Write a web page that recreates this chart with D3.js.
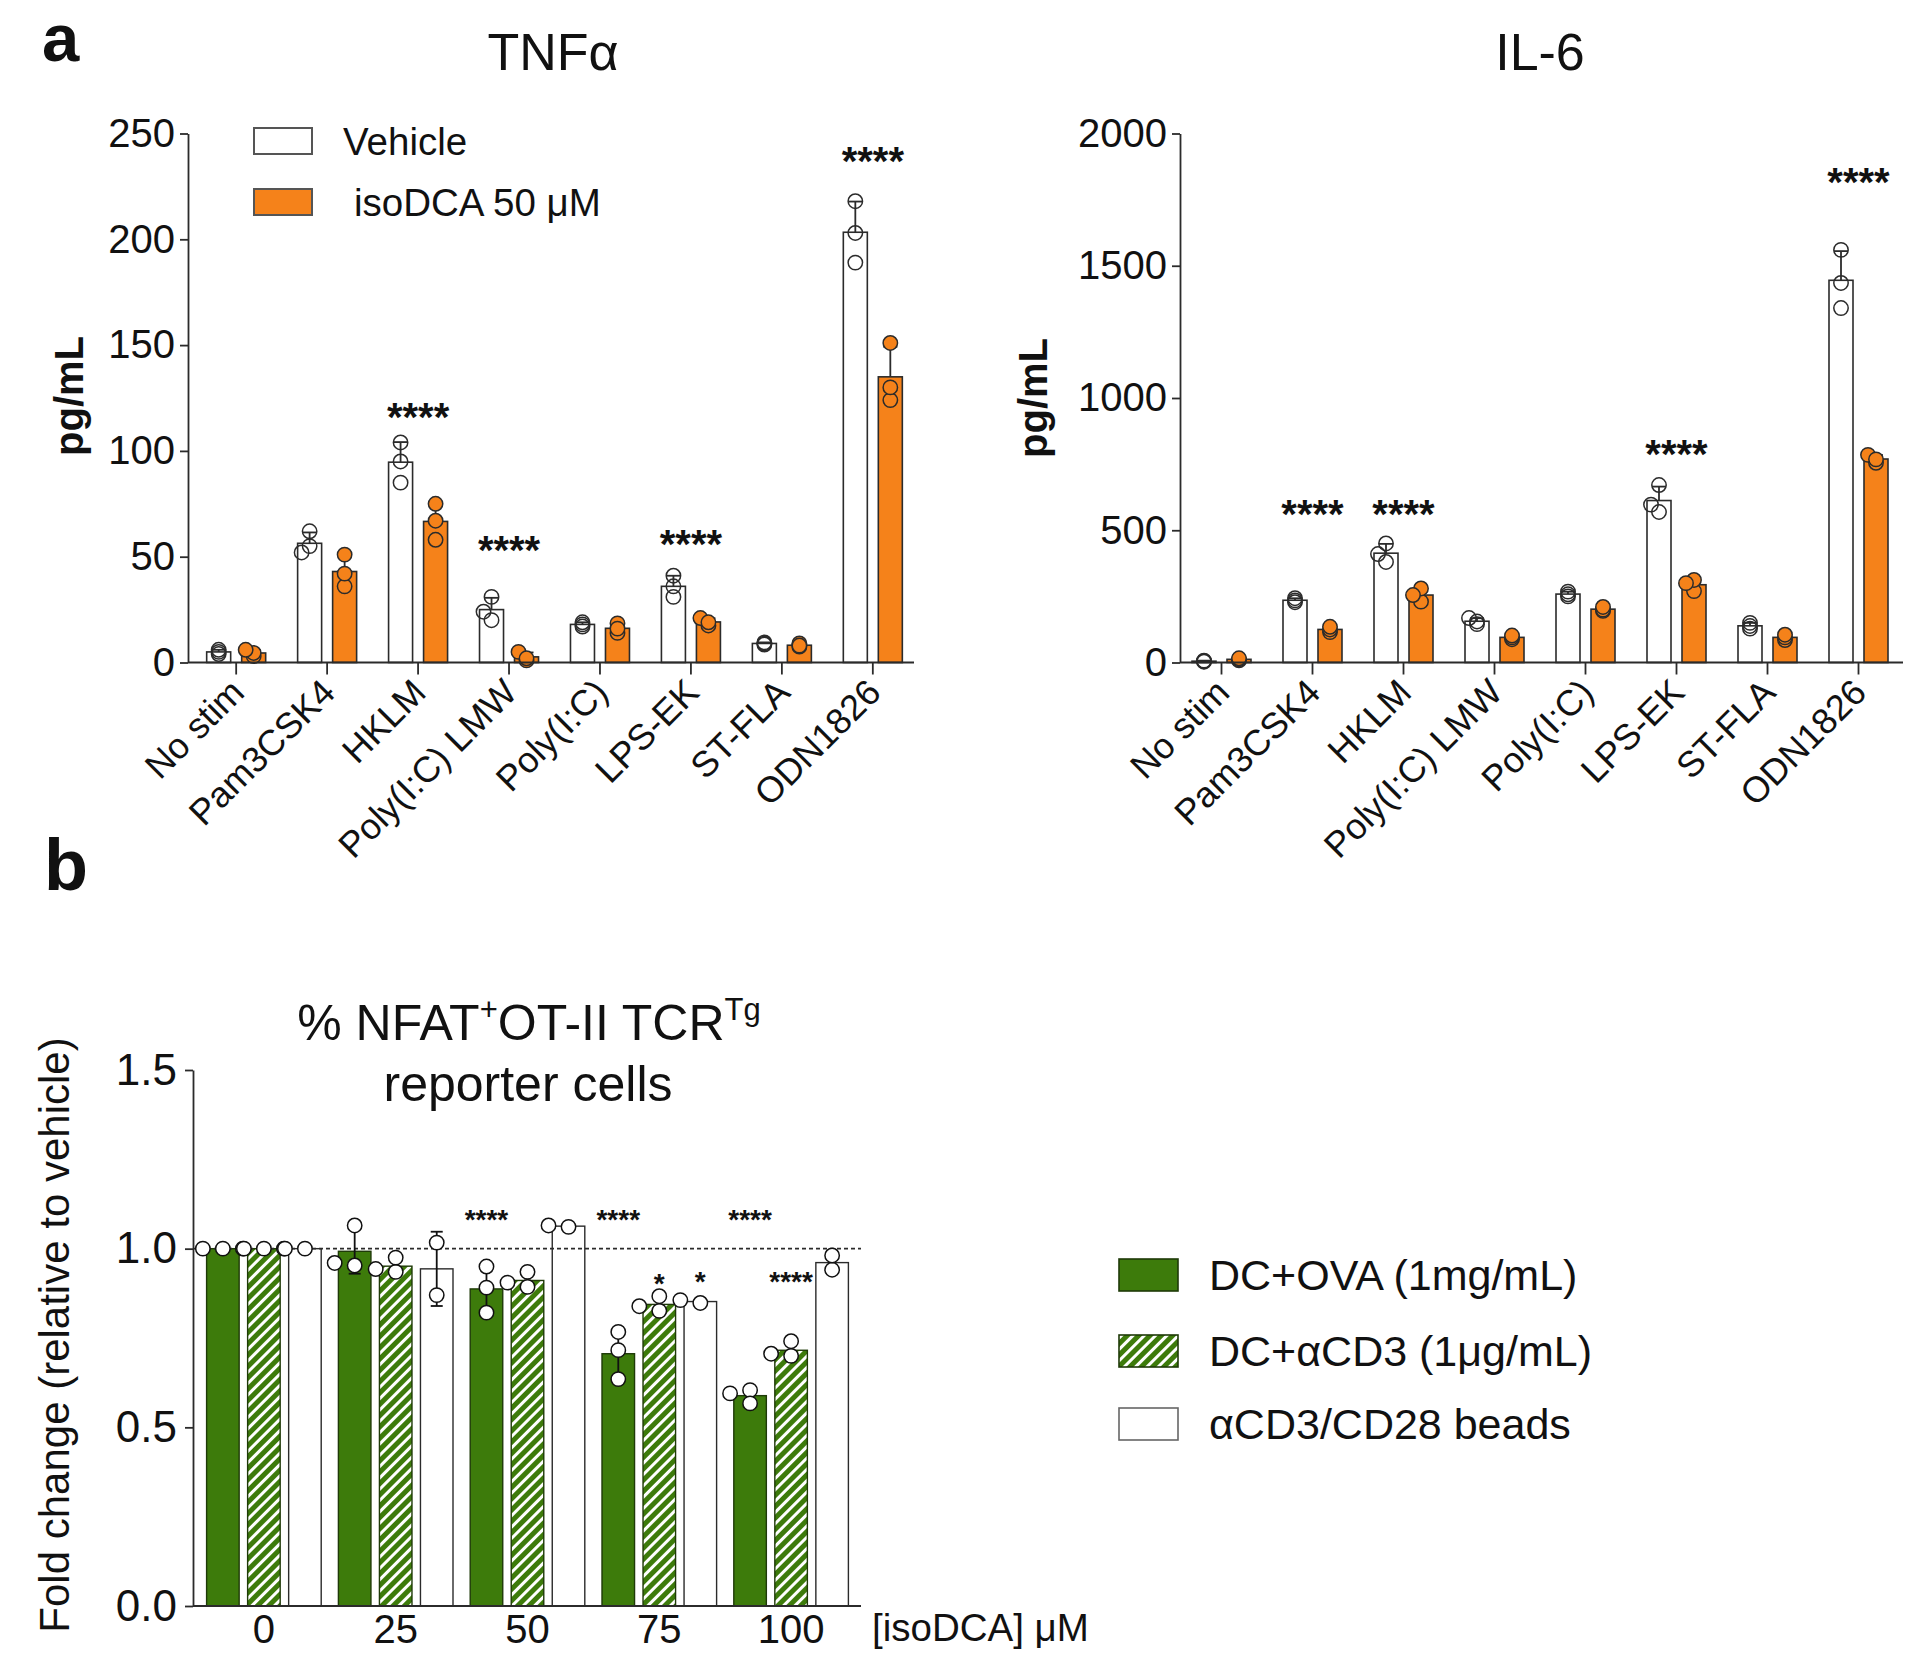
<!DOCTYPE html>
<html><head><meta charset="utf-8">
<script src="https://cdn.jsdelivr.net/npm/d3@7"></script>
<style>
body{margin:0;background:#fff}
svg{display:block}
text{font-family:"Liberation Sans",Arial,Helvetica,sans-serif;fill:#111}
</style>
</head><body>
<svg id="c" width="1920" height="1667"></svg>
<script>
// ---------------- DATA ----------------
const stimuli = ["No stim","Pam3CSK4","HKLM","Poly(I:C) LMW","Poly(I:C)","LPS-EK","ST-FLA","ODN1826"];
const treatments = ["Vehicle","isoDCA 50 μM"];

const tnfVehicle = [[5,4,6],[62,55,52],[85,104,95],[20,31,24],[17,18,19],[31,36,41],[8.5,9,9.5],[189,203,218]];
const tnfIso     = [[3,4.5,6],[36,51,42],[58,75,67],[1,5,2],[14,18.5,16],[17.5,21,19],[7.5,9,8],[124,151,130]];
const tnfTicks = [0,50,100,150,200,250];
const tnfSigStim = ["HKLM","Poly(I:C) LMW","LPS-EK","ODN1826"];
const tnfSigLevel = [120,57,60,241];

const il6Vehicle = [[3,5,7],[228,235,243],[380,450,410],[145,155,168],[250,258,268],[569,671,597],[128,138,150],[1340,1560,1435]];
const il6Iso     = [[8,12,16],[115,125,135],[230,280,255],[88,95,102],[195,200,210],[270,312,300],[85,95,105],[755,785,768]];
const il6Ticks = [0,500,1000,1500,2000];
const il6SigStim = ["Pam3CSK4","HKLM","LPS-EK","ODN1826"];
const il6SigLevel = [592,592,820,1850];

const doses = ["0","25","50","75","100"];
const bSeries = ["DC+OVA (1mg/mL)","DC+αCD3 (1μg/mL)","αCD3/CD28 beads"];
const ovaVals  = [[1,1,1],[0.953,1.065,0.96],[0.95,0.821,0.891],[0.767,0.635,0.716],[0.604,0.567,0.595]];
const cd3Vals  = [[1,1,1],[0.935,0.975,0.943],[0.893,0.935,0.905],[0.826,0.867,0.839],[0.70,0.741,0.706]];
const beadVals = [[1,1],[1.017,0.87],[1.061,1.065],[0.848,0.856],[0.941,0.981]];
const bTicks = [0,0.5,1.0,1.5];
const bSigDose   = ["50","75","75","75","100","100"];
const bSigSeries = [0,0,1,2,0,1];
const bSigLabel  = ["****","****","*","*","****","****"];
const bSigLevel  = [1.10,1.10,0.92,0.925,1.10,0.925];

// ---------------- HELPERS ----------------
const svg = d3.select("#c");
const INK = "#2b2b2b";
const ORANGE = "#f5821a";
const GREEN = "#3d7b0b";
const mean = a => d3.mean(a);
const sd = a => d3.deviation(a) || 0;

function dodge(vals, y, cx, s, stackTol, minD){
  const placed = [];
  return vals.map(v => {
    const py = y(v);
    const cands = [0,-s,s,-2*s,2*s];
    let px = cx;
    for (const c of cands){
      const ok = placed.every(q => {
        const dy = Math.abs(q.y-py);
        if (dy < stackTol) return true;
        return Math.hypot(q.x-(cx+c), dy) >= minD;
      });
      if (ok){ px = cx+c; break; }
    }
    const p = {x:px, y:py, v}; placed.push(p); return p;
  });
}

function starText(g, x, yc, label, fs){
  g.append("text").attr("x",x).attr("y",yc+0.56*fs)
    .attr("text-anchor","middle").attr("font-size",fs).attr("font-weight","bold").text(label);
}

// ---------------- PANEL A ----------------
function panelA(cfg){
  const g = svg.append("g");
  const x = d3.scaleBand().domain(stimuli).range([cfg.bandL, cfg.bandR]);
  const y = d3.scaleLinear().domain([0, cfg.yMax]).range([662.5, 133.5]);
  const sub = d3.scaleBand().domain(treatments).range([-29.5, 29.5]).paddingInner(11/35);
  const series = [cfg.veh, cfg.iso];

  treatments.forEach((t,ti) => {
    g.selectAll(null).data(stimuli).enter().append("rect")
      .attr("x", d => x(d)+x.bandwidth()/2+sub(t))
      .attr("width", sub.bandwidth())
      .attr("y", (d,i) => y(mean(series[ti][i])))
      .attr("height", (d,i) => y(0)-y(mean(series[ti][i])))
      .attr("fill", ti ? ORANGE : "#fff")
      .attr("stroke", INK).attr("stroke-width", 1.6);
  });
  treatments.forEach((t,ti) => {
    stimuli.forEach((s,i) => {
      const cx = x(s)+x.bandwidth()/2+sub(t)+sub.bandwidth()/2;
      const m = mean(series[ti][i]), e = sd(series[ti][i]);
      g.append("line").attr("x1",cx).attr("x2",cx).attr("y1",y(m)).attr("y2",y(m+e))
        .attr("stroke",INK).attr("stroke-width",1.8);
      g.append("line").attr("x1",cx-7).attr("x2",cx+7).attr("y1",y(m+e)).attr("y2",y(m+e))
        .attr("stroke",INK).attr("stroke-width",1.8);
    });
  });
  treatments.forEach((t,ti) => {
    stimuli.forEach((s,i) => {
      const cx = x(s)+x.bandwidth()/2+sub(t)+sub.bandwidth()/2;
      const pts = dodge(series[ti][i], y, cx, 8, 6, 9);
      g.selectAll(null).data(pts).enter().append("circle")
        .attr("cx", d => d.x).attr("cy", d => d.y).attr("r", 7.2)
        .attr("fill", ti ? ORANGE : "none").attr("stroke", INK).attr("stroke-width", 1.5);
    });
  });
  const ya = g.append("g").attr("transform",`translate(${cfg.axisX},0)`)
    .call(d3.axisLeft(y).tickValues(cfg.ticks).tickSize(8).tickSizeOuter(0).tickPadding(5).tickFormat(d3.format("d")));
  ya.select(".domain").attr("stroke",INK).attr("stroke-width",1.8);
  ya.selectAll(".tick line").attr("stroke",INK).attr("stroke-width",1.8);
  ya.selectAll(".tick text").attr("font-size",40).attr("font-family",'"Liberation Sans",Arial,sans-serif').attr("fill","#111");
  g.append("line").attr("x1",cfg.axisX).attr("x2",cfg.axisEnd).attr("y1",y(0)).attr("y2",y(0))
    .attr("stroke",INK).attr("stroke-width",1.8);
  g.selectAll(null).data(stimuli).enter().append("line")
    .attr("x1", d => x(d)+x.bandwidth()/2).attr("x2", d => x(d)+x.bandwidth()/2)
    .attr("y1", y(0)).attr("y2", y(0)+12).attr("stroke",INK).attr("stroke-width",1.8);
  g.selectAll(null).data(stimuli).enter().append("text")
    .attr("transform", d => `translate(${x(d)+x.bandwidth()/2+10},${y(0)+32}) rotate(-45)`)
    .attr("text-anchor","end").attr("font-size",36).text(d => d);
  g.append("text").attr("transform",`translate(${cfg.labX},${cfg.labY}) rotate(-90)`)
    .attr("text-anchor","middle").attr("font-size",40).attr("font-weight","bold").text("pg/mL");
  g.append("text").attr("x",cfg.titleX).attr("y",70).attr("text-anchor","middle")
    .attr("font-size",52).text(cfg.title);
  cfg.sigStim.forEach((s,i) => starText(g, x(s)+x.bandwidth()/2, y(cfg.sigLevel[i]), "****", 40));
}

panelA({veh:tnfVehicle, iso:tnfIso, yMax:250, ticks:tnfTicks, bandL:190.7, bandR:918.3,
  axisX:188, axisEnd:914, labX:83, labY:396, title:"TNFα", titleX:553,
  sigStim:tnfSigStim, sigLevel:tnfSigLevel});
panelA({veh:il6Vehicle, iso:il6Iso, yMax:2000, ticks:il6Ticks, bandL:1176, bandR:1904,
  axisX:1180, axisEnd:1903, labX:1047, labY:398, title:"IL-6", titleX:1540,
  sigStim:il6SigStim, sigLevel:il6SigLevel});

// legend a
const legA = svg.append("g");
legA.append("rect").attr("x",254).attr("y",128).attr("width",58).attr("height",26)
  .attr("fill","#fff").attr("stroke","#555").attr("stroke-width",2);
legA.append("rect").attr("x",254).attr("y",189).attr("width",58).attr("height",26)
  .attr("fill",ORANGE).attr("stroke","#555").attr("stroke-width",2);
legA.append("text").attr("x",343).attr("y",155).attr("font-size",38.5).text(treatments[0]);
legA.append("text").attr("x",354).attr("y",216).attr("font-size",38.5).text(treatments[1]);

// panel letters
svg.append("text").attr("x",42).attr("y",61).attr("font-size",67).attr("font-weight","bold").text("a");
svg.append("text").attr("x",44).attr("y",890).attr("font-size",72).attr("font-weight","bold").text("b");

// ---------------- PANEL B ----------------
const defs = svg.append("defs");
const pat = defs.append("pattern").attr("id","hatch").attr("patternUnits","userSpaceOnUse")
  .attr("width",8).attr("height",8).attr("patternTransform","rotate(45)");
pat.append("rect").attr("width",8).attr("height",8).attr("fill",GREEN);
pat.append("rect").attr("width",3).attr("height",8).attr("fill","#fff");

const gb = svg.append("g");
const xb = d3.scaleBand().domain(doses).range([198, 857]);
const yb = d3.scaleLinear().domain([0,1.5]).range([1606, 1070]);
const subb = d3.scaleBand().domain(bSeries).range([-57.3, 57.3]).paddingInner(8/38.7);
const bData = [ovaVals, cd3Vals, beadVals];
const bFill = [GREEN, "url(#hatch)", "#fff"];
const bcx = (d, si) => xb(d)+xb.bandwidth()/2+subb(bSeries[si])+subb.bandwidth()/2;

bSeries.forEach((s,si) => {
  gb.selectAll(null).data(doses).enter().append("rect")
    .attr("x", d => bcx(d,si)-subb.bandwidth()/2)
    .attr("width", subb.bandwidth())
    .attr("y", (d,i) => yb(mean(bData[si][i])))
    .attr("height", (d,i) => yb(0)-yb(mean(bData[si][i])))
    .attr("fill", bFill[si]).attr("stroke", si===2 ? INK : "#1f3a08").attr("stroke-width",1.4);
});
gb.append("line").attr("x1",193).attr("x2",861).attr("y1",yb(1)).attr("y2",yb(1))
  .attr("stroke",INK).attr("stroke-width",1.6).attr("stroke-dasharray","4,3");
bSeries.forEach((s,si) => {
  doses.forEach((d,i) => {
    const cx = bcx(d,si), m = mean(bData[si][i]), e = sd(bData[si][i]);
    if (e < 0.002) return;
    gb.append("line").attr("x1",cx).attr("x2",cx).attr("y1",yb(m-e)).attr("y2",yb(m+e))
      .attr("stroke","#111").attr("stroke-width",1.8);
    [m-e, m+e].forEach(v => gb.append("line").attr("x1",cx-6).attr("x2",cx+6)
      .attr("y1",yb(v)).attr("y2",yb(v)).attr("stroke","#111").attr("stroke-width",1.8));
  });
});
bSeries.forEach((s,si) => {
  doses.forEach((d,i) => {
    const pts = dodge(bData[si][i], yb, bcx(d,si), 10, -1, 12);
    gb.selectAll(null).data(pts).enter().append("circle")
      .attr("cx", p => p.x).attr("cy", p => p.y).attr("r", 7.2)
      .attr("fill","#fff").attr("stroke","#111").attr("stroke-width",1.5);
  });
});
bSigDose.forEach((d,i) => starText(gb, bcx(d,bSigSeries[i]), yb(bSigLevel[i]), bSigLabel[i], 28));
const yab = gb.append("g").attr("transform","translate(193,0)")
  .call(d3.axisLeft(yb).tickValues(bTicks).tickSize(8).tickSizeOuter(0).tickPadding(8).tickFormat(d3.format(".1f")));
yab.select(".domain").attr("stroke",INK).attr("stroke-width",1.8);
yab.selectAll(".tick line").attr("stroke",INK).attr("stroke-width",1.8);
yab.selectAll(".tick text").attr("font-size",44).attr("font-family",'"Liberation Sans",Arial,sans-serif').attr("fill","#111");
gb.append("line").attr("x1",193).attr("x2",861).attr("y1",yb(0)).attr("y2",yb(0))
  .attr("stroke",INK).attr("stroke-width",1.8);
gb.selectAll(null).data(doses).enter().append("text")
  .attr("x", d => bcx(d,1)).attr("y",1643).attr("text-anchor","middle").attr("font-size",40).text(d => d);
gb.append("text").attr("x",872).attr("y",1641).attr("font-size",38.5).text("[isoDCA] μM");
gb.append("text").attr("transform","translate(69,1335) rotate(-90)").attr("text-anchor","middle")
  .attr("font-size",42).text("Fold change (relative to vehicle)");
const t1 = gb.append("text").attr("x",529).attr("y",1040).attr("text-anchor","middle").attr("font-size",50);
t1.append("tspan").text("% NFAT");
t1.append("tspan").attr("font-size",31).attr("dy",-20).text("+");
t1.append("tspan").attr("dy",20).text("OT-II TCR");
t1.append("tspan").attr("font-size",31).attr("dy",-20).text("Tg");
gb.append("text").attr("x",528).attr("y",1101).attr("text-anchor","middle").attr("font-size",50).text("reporter cells");

// legend b
const legB = svg.append("g");
bSeries.forEach((s,si) => {
  const cy = [1275,1351,1424][si];
  legB.append("rect").attr("x",1119).attr("y",cy-16).attr("width",59).attr("height",32)
    .attr("fill",bFill[si]).attr("stroke", si===2 ? "#666" : "#1f3a08").attr("stroke-width",1.6);
  legB.append("text").attr("x",1209).attr("y",cy+15).attr("font-size",43).text(s);
});
</script>
</body></html>
